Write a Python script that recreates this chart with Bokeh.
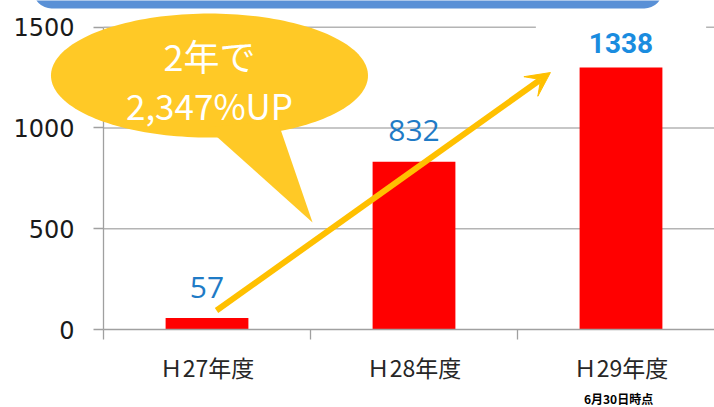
import numpy as np
from bokeh.plotting import figure
from bokeh.models import (Range1d, FixedTicker, ColumnDataSource, LabelSet, Label,
                          Arrow, VeeHead, PolyAnnotation, BoxAnnotation)
from bokeh.core.properties import value
from bokeh.embed import file_html
from bokeh.resources import INLINE

# ---- data ----
categories = ["Ｈ27年度", "Ｈ28年度", "Ｈ29年度"]
bar_values = [57, 832, 1300]
value_labels = ["57", "832", "1338"]
y_ticks = [0, 500, 1000, 1500]
note_text = "6月30日時点"
callout_lines = ["2年で", "2,347%UP"]

x_pos = [i + 0.5 for i in range(len(categories))]
boundaries = list(range(len(categories) + 1))
X_END = 2.9517

p = figure(width=714, height=407, output_backend="svg", toolbar_location=None,
           x_range=Range1d(-0.4976, X_END), y_range=Range1d(-387, 1632.5),
           min_border_left=0, min_border_right=0, min_border_top=0,
           min_border_bottom=0, margin=(0, 0, 0, 0))
p.outline_line_color = None
p.background_fill_color = "white"
p.border_fill_color = "white"

# axes (drawn inside the frame at fixed positions)
p.xaxis.fixed_location = 0
p.xaxis.ticker = FixedTicker(ticks=x_pos, minor_ticks=boundaries)
p.xaxis.major_label_overrides = {x: c for x, c in zip(x_pos, categories)}
p.xaxis.bounds = (0, X_END)
p.xaxis.major_tick_out = 0
p.xaxis.major_tick_in = 0
p.xaxis.minor_tick_out = 10
p.xaxis.minor_tick_in = 0
p.xaxis.minor_tick_line_color = "#A0A0A0"
p.xaxis.minor_tick_line_width = 1.3
p.xaxis.axis_line_color = "#A0A0A0"
p.xaxis.axis_line_width = 1.3
p.xaxis.major_label_standoff = 10
p.xaxis.major_label_text_font = "Noto Sans CJK JP"
p.xaxis.major_label_text_font_size = "23px"
p.xaxis.major_label_text_color = "#262626"

p.yaxis.fixed_location = 0
p.yaxis.bounds = (0, 1500)
p.yaxis.ticker = FixedTicker(ticks=y_ticks, minor_ticks=[])
p.yaxis.major_tick_out = 10
p.yaxis.major_tick_in = 0
p.yaxis.major_tick_line_color = "#A0A0A0"
p.yaxis.major_tick_line_width = 1.3
p.yaxis.axis_line_color = "#A0A0A0"
p.yaxis.axis_line_width = 1.3
p.yaxis.major_label_standoff = 19
p.yaxis.major_label_text_font = "DejaVu Sans"
p.yaxis.major_label_text_font_size = "24px"
p.yaxis.major_label_text_color = "#1A1A1A"

p.xgrid.grid_line_color = None
p.ygrid.grid_line_color = None
# horizontal gridlines, only to the right of the value axis
p.segment(x0=[0] * 3, x1=[X_END] * 3, y0=y_ticks[1:], y1=y_ticks[1:],
          line_color="#B4B4B4", line_width=1.4)

# bars
p.vbar(x=x_pos, top=bar_values, width=0.4, fill_color="#FF0000", line_color=None)

# value labels
src = ColumnDataSource(dict(x=x_pos[:2], y=bar_values[:2], text=value_labels[:2]))
p.add_layout(LabelSet(x="x", y="y", text="text", source=src, y_offset=31,
                      text_align="center", text_baseline="middle",
                      text_font=value("Open Sans"), text_font_size=value("30px"),
                      text_color=value("#1F7BC6")))
p.add_layout(Label(x=x_pos[2], y=bar_values[2], text=value_labels[2], y_offset=25,
                   text_align="center", text_baseline="middle",
                   text_font="Roboto", text_font_style="bold", text_font_size="28px",
                   text_color="#1A8CDF", background_fill_color="white",
                   padding=dict(left=53, right=53, top=8, bottom=8)))

# top blue banner (cut off by the page edge)
p.add_layout(BoxAnnotation(left=-0.338, right=2.70, bottom=1593, top=1800,
                           fill_color="#5990D6", fill_alpha=1.0, line_color=None,
                           border_radius=18, level="annotation"))

# speech bubble callout
t = np.linspace(0, 2 * np.pi, 181)
cx, cy, rx, ry = 0.512, 1260, 0.7657, 307.6
p.add_layout(PolyAnnotation(xs=list(cx + rx * np.cos(t)), ys=list(cy + ry * np.sin(t)),
                            fill_color="#FFC926", fill_alpha=1.0, line_color=None))
p.add_layout(PolyAnnotation(xs=[0.4976, 0.8406, 1.010], ys=[1002, 1037, 531],
                            fill_color="#FFC926", fill_alpha=1.0, line_color=None))
for txt, yy, fs in zip(callout_lines, [1360, 1116], ["36px", "35px"]):
    p.add_layout(Label(x=cx, y=yy, text=txt, text_align="center", text_baseline="middle",
                       text_font="Noto Sans CJK JP", text_font_size=fs, text_color="white"))

# growth arrow
p.add_layout(Arrow(end=VeeHead(size=24, fill_color="#FFC000", line_color="#FFC000"),
                   x_start=0.546, y_start=94, x_end=2.159, y_end=1275,
                   line_color="#FFC000", line_width=6))

# note under the last category
p.add_layout(Label(x=2.488, y=-340, text=note_text, text_align="center",
                   text_baseline="middle", text_font="Noto Sans CJK JP",
                   text_font_style="bold", text_font_size="12px", text_color="black"))

open("out.html", "w").write(file_html(p, INLINE))
